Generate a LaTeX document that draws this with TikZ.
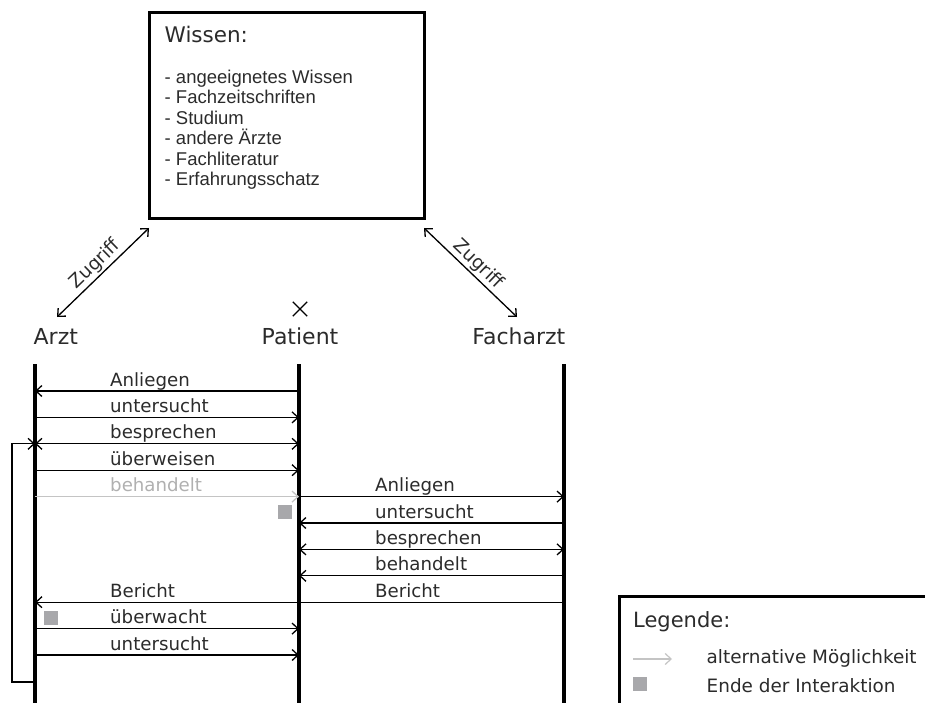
\documentclass[tikz,border=0pt]{standalone}
\usepackage{fontspec}
\setmainfont{DejaVu Sans}
\newfontfamily\listfont{Liberation Sans}
\usetikzlibrary{arrows.meta,shapes.misc}
\definecolor{txt}{HTML}{2B2B2B}
\definecolor{altgray}{HTML}{C4C4C4}
\definecolor{alttext}{HTML}{B0B0B0}
\definecolor{endgray}{HTML}{A8A8AB}
\begin{document}
\begin{tikzpicture}[x=1pt,y=-1pt,
  >={Straight Barb[length=6pt,width=11pt]},
  msg/.style={line width=1.3pt},
  lifeline/.style={line width=3.5pt},
  lbl/.style={anchor=base west, inner sep=0, text=txt, font=\fontsize{18.2}{20}\selectfont},
  actor/.style={inner sep=0, text=txt, font=\fontsize{22}{26}\selectfont},
  endsq/.style={fill=endgray, inner sep=0, minimum size=14pt, anchor=north west}]
\useasboundingbox (0,0) rectangle (925,703);

% knowledge box
\node[draw, line width=3pt, minimum width=275pt, minimum height=206pt, inner sep=0] (wissen) at (286.5,116) {};
\node[anchor=base west, inner sep=0, text=txt, font=\fontsize{21.5}{24}\selectfont] (wtitle) at (164.5,43) {Wissen:};
\foreach \t [count=\k from 0] in {- angeeignetes Wissen, - Fachzeitschriften, - Studium, - andere Ärzte, - Fachliteratur, - Erfahrungsschatz}
  \node[anchor=base west, inner sep=0, text=txt, font=\listfont\fontsize{18.5}{21}\selectfont] (w\k) at (164.5,{83.3+20.5*\k}) {\t};

% actors
\node[actor, anchor=base west] (arzt) at (33.5,344) {Arzt};
\node[actor, anchor=base] (patient) at (300,344) {Patient};
\node[actor, anchor=base east] (facharzt) at (565.5,344) {Facharzt};
\node[cross out, draw, line width=1.3pt, minimum size=13pt, inner sep=0] (xmark) at (300,309) {};

% access arrows
\coordinate (zl1) at (57,317);
\coordinate (zl2) at (149,228);
\coordinate (zr1) at (424,228);
\coordinate (zr2) at (517,317);
\draw[msg,<->] (zl1) -- (zl2) node[midway, sloped, above, inner sep=1.5pt, text=txt, font=\fontsize{18.5}{20}\selectfont] (zlab1) {Zugriff};
\draw[msg,<->] (zr1) -- (zr2) node[midway, sloped, above, inner sep=1.5pt, text=txt, font=\fontsize{18.5}{20}\selectfont] (zlab2) {Zugriff};

% lifelines
\coordinate (At) at (35,364);  \coordinate (Ab) at (35,703);
\coordinate (Pt) at (299,364); \coordinate (Pb) at (299,703);
\coordinate (Ft) at (564,364); \coordinate (Fb) at (564,703);
\draw[lifeline] (At) -- (Ab);
\draw[lifeline] (Pt) -- (Pb);
\draw[lifeline] (Ft) -- (Fb);

% message rows
\foreach \i in {0,...,10} {
  \coordinate (a\i) at (35,{391+26.4*\i});
  \coordinate (p\i) at (299,{391+26.4*\i});
  \coordinate (f\i) at (564,{391+26.4*\i});
}
\draw[msg,<-] (a0) -- (p0);
\draw[msg,->] (a1) -- (p1);
\draw[msg,<->] (a2) -- (p2);
\draw[msg,->] (a3) -- (p3);
\draw[msg,->,altgray] (a4) -- (p4);
\draw[msg,->] (p4) -- (f4);
\draw[msg,<-] (p5) -- (f5);
\draw[msg,<->] (p6) -- (f6);
\draw[msg,<-] (p7) -- (f7);
\draw[msg,<-] (a8) -- (f8);
\draw[msg,->] (a9) -- (p9);
\draw[msg,->] (a10) -- (p10);

\node[lbl] (m0) at (110,386) {Anliegen};
\node[lbl] (m1) at (110,412.4) {untersucht};
\node[lbl] (m2) at (110,438.8) {besprechen};
\node[lbl] (m3) at (110,465.2) {überweisen};
\node[lbl, text=alttext] (m4) at (110,491.6) {behandelt};
\node[lbl] (n4) at (375,491.6) {Anliegen};
\node[lbl] (n5) at (375,518) {untersucht};
\node[lbl] (n6) at (375,544.4) {besprechen};
\node[lbl] (n7) at (375,570.8) {behandelt};
\node[lbl] (n8) at (375,597.2) {Bericht};
\node[lbl] (m8) at (110,597.2) {Bericht};
\node[lbl] (m9) at (110,623.6) {überwacht};
\node[lbl] (m10) at (110,650) {untersucht};

% end markers
\node[endsq] (e1) at (278,505) {};
\node[endsq] (e2) at (44,611) {};

% loop
\coordinate (lb) at (35,682);
\coordinate (lc) at (12,682);
\draw[msg,->] (lb) -- (lc) |- (a2);

% legend
\node[draw, line width=3pt, anchor=north west, minimum width=340pt, minimum height=140pt, inner sep=0] (legend) at (618,595) {};
\node[anchor=base west, inner sep=0, text=txt, font=\fontsize{21}{24}\selectfont] (legt) at (633,627) {Legende:};
\coordinate (lg1) at (633,659);
\coordinate (lg2) at (672,659);
\draw[line width=1.2pt, altgray, ->] (lg1) -- (lg2);
\node[anchor=base west, inner sep=0, text=txt, font=\fontsize{18.4}{20}\selectfont] (leg1) at (706.5,663.5) {alternative Möglichkeit};
\node[endsq] (lsq) at (633,677) {};
\node[anchor=base west, inner sep=0, text=txt, font=\fontsize{18.4}{20}\selectfont] (leg2) at (706.5,692) {Ende der Interaktion};
\end{tikzpicture}
\end{document}
